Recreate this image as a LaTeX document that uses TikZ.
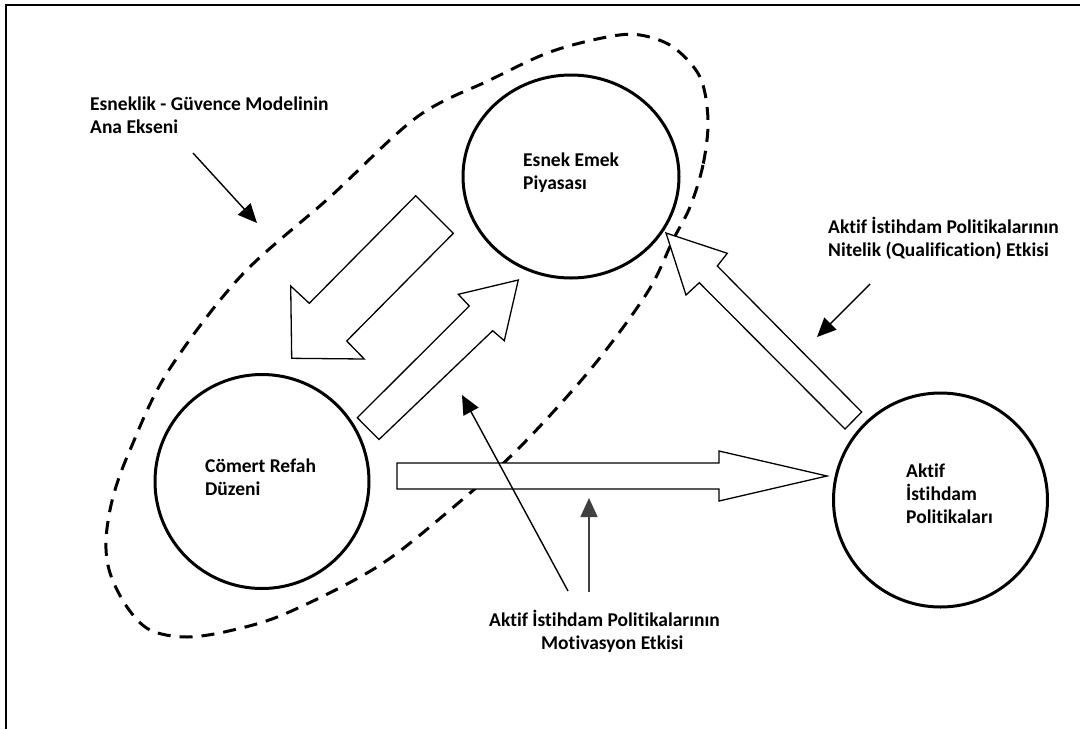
\documentclass[tikz,border=0pt]{standalone}
\usepackage{fontspec}
\setmainfont{Carlito}[Ligatures=CommonOff]
\usetikzlibrary{arrows.meta,shapes.geometric}
\begin{document}
\begin{tikzpicture}[x=1pt,y=-1pt,
  ring/.style={draw,line width=3pt,ellipse,inner sep=0pt},
  lbl/.style={inner sep=0pt,anchor=base west,align=left,font=\fontsize{19.5}{23}\selectfont\bfseries},
  blockarrow/.style={draw,line width=1.3pt,fill=white,line join=miter},
  pointer/.style={line width=1.4pt,-{Triangle[length=19pt,width=17pt]}},
  framestyle/.style={line width=2pt},
  zone/.style={line width=3pt,dash pattern=on 13pt off 9pt}
]
\useasboundingbox (0,0) rectangle (1080,729);
% frame (left and top only)
\draw[framestyle] (1080,5) -- (6,5) -- (6,729);

% dashed zone
\draw[zone] plot[smooth cycle,tension=0.55] coordinates {
 (708,120) (703,165) (690,207) (673,240) (647,293) (590,370) (517,450) (450,510)
 (377,567) (287,613) (233,630) (187,637) (150,630) (127,607) (110,573) (106,540)
 (113,497) (130,450) (167,373) (240,277) (330,197) (417,117) (490,80) (550,52)
 (607,37) (640,35) (673,47) (700,77)};

% circles
\node[ring,minimum width=216pt,minimum height=203pt] (esnek) at (571,176.5) {};
\node[ring,minimum width=214pt,minimum height=214pt] (comert) at (262,481.5) {};
\node[ring,minimum width=214pt,minimum height=214pt] (aktif) at (940.5,500) {};

% circle texts (anchor = baseline of last line)
\node[lbl] (tesnek) at (523,189) {Esnek Emek\\Piyasası};
\node[lbl] (tcomert) at (205,495) {Cömert Refah\\Düzeni};
\node[lbl] (taktif) at (906,523) {Aktif\\İstihdam\\Politikaları};

% block arrows
\draw[blockarrow] (415.7,195.7) -- (453.3,233.3) -- (346.7,341) -- (364.3,359)
  -- (291.7,358.3) -- (290.7,286) -- (309.3,303.3) -- cycle;
\draw[blockarrow] (357.3,417.7) -- (379,439.5) -- (492.7,330.7) -- (504.3,340.7)
  -- (518.3,280) -- (458.3,294.3) -- (469.3,306) -- cycle;
\draw[blockarrow] (397,463) -- (719,463) -- (719,451) -- (827,476) -- (719,501)
  -- (719,489) -- (397,489) -- cycle;
\draw[blockarrow] (666,233) -- (727.3,253.3) -- (717.3,266) -- (861.7,412) -- (845,429)
  -- (699.3,282.7) -- (686,295) -- cycle;

% annotation labels
\node[lbl] (naxis) at (90,133) {Esneklik - Güvence Modelinin\\Ana Ekseni};
\node[lbl] (nqual) at (828,256) {Aktif İstihdam Politikalarının\\Nitelik (Qualification) Etkisi};
\node[lbl] (nmotiv) at (489,649) {Aktif İstihdam Politikalarının\\\hspace*{52pt}Motivasyon Etkisi};

% pointer arrows
\coordinate (axisA) at (193,153);
\coordinate (axisB) at (257,223);
\coordinate (qualA) at (870,284);
\coordinate (qualB) at (817,337);
\coordinate (motA) at (568,591);
\coordinate (motB) at (462,395);
\coordinate (motC) at (589,592);
\coordinate (motD) at (589,498);
\draw[pointer] (axisA) -- (axisB);
\draw[pointer] (qualA) -- (qualB);
\draw[pointer] (motA) -- (motB);
\draw[pointer,draw=black!75,fill=black] (motC) -- (motD);
\end{tikzpicture}
\end{document}
